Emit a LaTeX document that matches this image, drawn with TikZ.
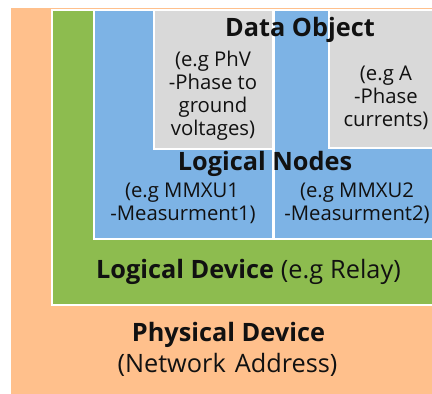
\documentclass[tikz,border=0pt]{standalone}
\usepackage{fontspec}
\setmainfont{Open Sans}
\definecolor{physcol}{HTML}{FFC08C}
\definecolor{ldcol}{HTML}{8DBC4F}
\definecolor{lncol}{HTML}{7DB3E5}
\definecolor{docol}{HTML}{D9D9D9}
\definecolor{inkcol}{HTML}{111111}
\newcommand{\bigsize}{\fontsize{25.3}{30}\selectfont}
\newcommand{\smallsize}{\fontsize{20.3}{24}\selectfont}
\tikzset{
  layer/.style={draw=white, line width=2pt},
  title/.style={anchor=base, inner sep=0pt, text=inkcol, font=\bigsize\bfseries},
  note/.style={anchor=base, inner sep=0pt, text=inkcol, font=\smallsize},
}
\begin{document}
\begin{tikzpicture}[x=1pt,y=-1pt]
\useasboundingbox (0,0) rectangle (432,394);
\clip (0,0) rectangle (432,394);
% nested layers: physical device > logical device > logical nodes > data objects
\fill[physcol] (11,8) rectangle (440,400);
\filldraw[layer, fill=ldcol] (52,9.5) rectangle (440,305);
\filldraw[layer, fill=lncol] (94,9.5) rectangle (272.5,238.5);
\filldraw[layer, fill=lncol] (274,9.5) rectangle (440,238.5);
\filldraw[layer, fill=docol] (154,9.5) rectangle (272.5,149);
\filldraw[layer, fill=docol] (329,9.5) rectangle (440,148);
% data object labels
\node[title] (dotitle) at (300,36) {Data Object};
\node[note] (do1a) at (213,66.5) {(e.g PhV};
\node[note] (do1b) at (213,89.5) {-Phase to};
\node[note] (do1c) at (213,112.5) {ground};
\node[note] (do1d) at (213,135.5) {voltages)};
\node[note] (do2a) at (386,80.5) {(e.g A};
\node[note] (do2b) at (386,103.5) {-Phase};
\node[note] (do2c) at (386,126.5) {currents)};
% logical node labels
\node[title] (lntitle) at (265,170) {Logical Nodes};
\node[note] (ln1a) at (182,197) {(e.g MMXU1};
\node[note] (ln1b) at (183,220) {-Measurment1)};
\node[note] (ln2a) at (357,197) {(e.g MMXU2};
\node[note] (ln2b) at (357,220) {-Measurment2)};
% logical device label
\node[anchor=base, inner sep=0pt, text=inkcol, font=\bigsize] (ldtitle) at (248.5,278)
  {\textbf{Logical Device}\hspace{7pt}(e.g\hspace{7pt}Relay)};
% physical device labels
\node[title] (pdtitle) at (228.5,341) {Physical Device};
\node[anchor=base, inner sep=0pt, text=inkcol, font=\bigsize] (pdaddr) at (227.5,372) {(Network\hspace{9pt}Address)};
\end{tikzpicture}
\end{document}
